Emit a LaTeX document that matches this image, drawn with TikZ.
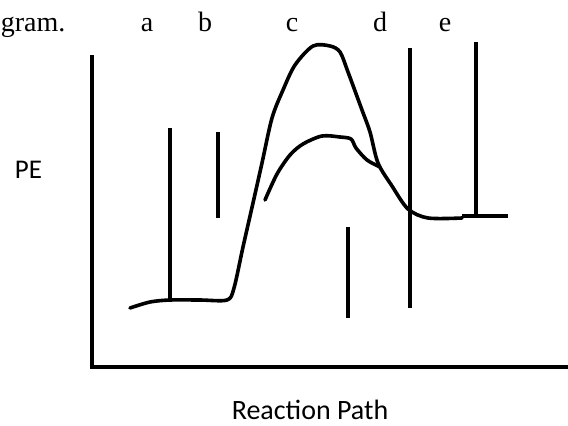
\documentclass[tikz,border=0pt]{standalone}
\usepackage{fontspec}
\setmainfont{Liberation Serif}
\newfontfamily\calibri{Carlito}

\begin{document}
\begin{tikzpicture}[x=1pt, y=-1pt, line width=3.6pt]
  \useasboundingbox (0, 0) rectangle (568, 426);
  % axes: corner at bottom left
  \coordinate (O) at (92, 367);
  \coordinate (Ytop) at (92, 55);
  \coordinate (Xend) at (568, 367);
  \draw[line join=miter] (Ytop)--(O)--(Xend);

  % top labels (serif, cut-off text at left)
  \node[font=\fontsize{28}{30}\selectfont, anchor=base west, inner sep=0] (cut) at (-1, 31) {gram.};
  \node[font=\fontsize{28}{30}\selectfont, anchor=base, inner sep=0] (la) at (147, 31) {a};
  \node[font=\fontsize{28}{30}\selectfont, anchor=base, inner sep=0] (lb) at (205, 31) {b};
  \node[font=\fontsize{28}{30}\selectfont, anchor=base, inner sep=0] (lc) at (292, 31) {c};
  \node[font=\fontsize{28}{30}\selectfont, anchor=base, inner sep=0] (ld) at (380, 31) {d};
  \node[font=\fontsize{28}{30}\selectfont, anchor=base, inner sep=0] (le) at (445, 31) {e};

  % axis labels
  \node[font=\calibri\fontsize{27}{30}\selectfont, anchor=base west, inner sep=0] (pe) at (13, 178) {PE};
  \node[font=\calibri\fontsize{28}{32}\selectfont, anchor=base, inner sep=0] (path) at (310, 419) {Reaction Path};

  % uncatalysed path: reactants, high hump, products
  \draw[line join=round, line cap=round] plot[smooth, tension=0.5] coordinates {
    (130,308) (150,302) (170,300) (200,300) (227,300) (234,288) (243,247)
    (253,203) (262,163) (272,118) (283,90) (295,65) (313,46) (330,46)
    (340,52) (348,72) (362,110) (370,132) (378,163) (392,186) (408,209)
    (428,218) (462,218)};
  \draw (462,216)--(508,216);

  % catalysed path: lower hump
  \draw[line join=round, line cap=round] plot[smooth, tension=0.5] coordinates {
    (265,200) (277,174) (290,155) (303,144) (322,136) (340,137) (351,139)
    (356,148) (367,160) (380,167)};

  % vertical bars
  \draw (170,128)--(170,300);
  \draw (218,132)--(218,218);
  \draw (348,227)--(348,318);
  \draw (410,48)--(410,308);
  \draw (476,42)--(476,216);
\end{tikzpicture}
\end{document}
